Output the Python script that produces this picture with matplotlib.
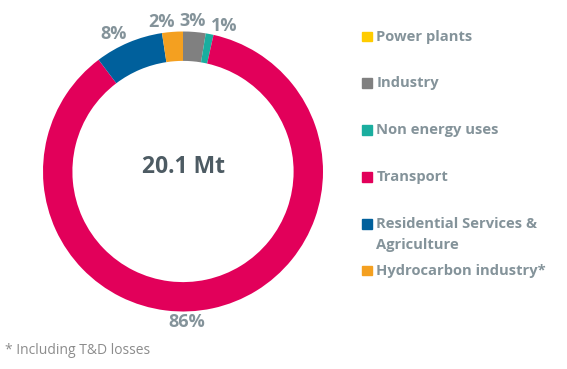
import numpy as np
import matplotlib.pyplot as plt
from matplotlib.patches import Rectangle

plt.rcParams['font.family'] = ['Open Sans', 'DejaVu Sans']

sectors = ['Power plants', 'Industry', 'Non energy uses', 'Transport',
           'Residential Services &\nAgriculture', 'Hydrocarbon industry*']
shares = [0.0, 2.6, 0.9, 86.2, 7.9, 2.4]
colors = ['#FFCC00', '#808080', '#1AAE9F', '#E2005A', '#00609C', '#F4A020']
total_label = '20.1 Mt'
note = '* Including T&D losses'

label_col = '#84939A'
W, H = 567, 369
fig = plt.figure(figsize=(W / 100, H / 100), dpi=100)

# donut axes: centre (183, 171) px, outer radius 140 px
cx, cy, r = 183, 171.5, 140
ax = fig.add_axes([(cx - r) / W, (H - cy - r) / H, 2 * r / W, 2 * r / H])
wedges, _ = ax.pie(shares, colors=colors, startangle=90, counterclock=False,
                   radius=1, wedgeprops=dict(width=0.21, linewidth=0))
ax.set_xlim(-1, 1)
ax.set_ylim(-1, 1)
ax.set_aspect('equal')
ax.axis('off')

ax.text(0, 0.03, total_label, ha='center', va='center', fontsize=16.5,
        fontweight='bold', color='#4D5B63')

# percentage labels, nudged (degrees) to keep the small ones apart
nudge = [0, 1, -4.7, -11, 4, 3.7]
dist = [1.08, 1.075, 1.08, 1.075, 1.1, 1.075]
for w, v, dn, d in zip(wedges, shares, nudge, dist):
    if v <= 0:
        continue
    ang = np.deg2rad((w.theta1 + w.theta2) / 2 + dn)
    ax.text(d * np.cos(ang), d * np.sin(ang), f'{v:.0f}%', ha='center',
            va='center', fontsize=13, fontweight='bold', color=label_col,
            clip_on=False)

# legend
row_y = [36.5, 83, 130, 177, 224, 270.5]
for name, col, y in zip(sectors, colors, row_y):
    fig.patches.append(Rectangle(((362) / W, (H - y - 4.7) / H), 9.5 / W, 9.5 / H,
                                 transform=fig.transFigure, color=col))
    fig.text(376.5 / W, (H - y + 7) / H, name, ha='left', va='top',
             fontsize=10.6, fontweight='bold', color=label_col,
             linespacing=1.68)

fig.text(5 / W, (H - 350) / H, note, ha='left', va='center', fontsize=10,
         color='#8C8C8C')

fig.savefig('out.png', dpi=100)
